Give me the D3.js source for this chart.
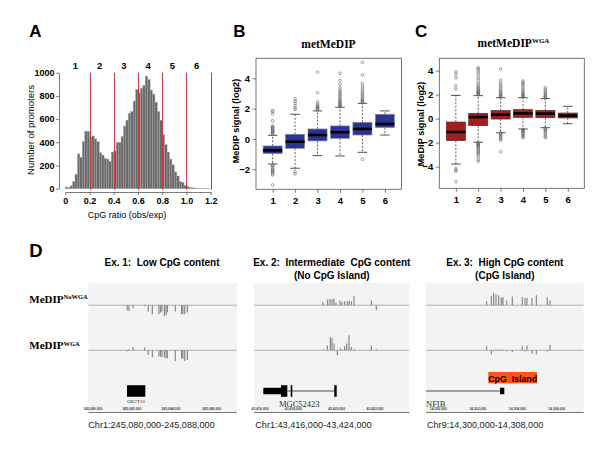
<!DOCTYPE html>
<html><head><meta charset="utf-8">
<script src="https://cdn.jsdelivr.net/npm/d3@7"></script>
<style>
body{margin:0;background:#fff}
svg{display:block}
text{font-family:"Liberation Sans",Arial,sans-serif;fill:#000}
.serif{font-family:"Liberation Serif","Times New Roman",serif}
</style>
</head><body>
<svg id="c" width="600" height="449"></svg>
<script>
// ---------------- DATA ----------------
// Panel A: histogram of CpG ratio (bins of 0.02 from 0 to 1.2)
const histBinWidth = 0.02;
const histCounts = [15,10,25,60,125,300,270,405,495,495,
  440,455,430,405,310,290,260,255,235,315,
  325,400,400,450,540,590,650,665,755,855,
  825,865,890,970,940,850,815,745,665,590,
  465,380,315,255,205,145,110,60,55,30,
  20,10,8,5,5,4,3,3,2,2];
const classCutoffs = [0.2,0.4,0.6,0.8,1.0,1.2];
const classLabels = ["1","2","3","4","5","6"];
const histXTicks = [0,0.2,0.4,0.6,0.8,1.0,1.2];
const histYTicks = [0,200,400,600,800,1000];

// Panels B and C: box statistics [lowWhisker, Q1, median, Q3, highWhisker]
const boxCategories = [1,2,3,4,5,6];
const statsB = [
  [-1.65,-0.97,-0.75,-0.46,0.24],
  [-1.93,-0.62,-0.18,0.31,1.63],
  [-1.10,-0.13,0.26,0.66,1.85],
  [-1.12,0.04,0.44,0.86,2.09],
  [-0.88,0.26,0.66,1.10,2.35],
  [0.26,0.75,0.99,1.63,1.85]];
const outliersB = [
  [0.30,0.35,0.40,0.45,0.50,0.55,0.60,0.65,0.70,0.75,0.80,0.85,1.20,1.65,1.80,1.87,
   -1.70,-1.75,-1.80,-1.90,-2.00,-2.05,-2.10,-2.15,-2.20,-2.30,-2.37,-3.03],
  [1.95,2.05,2.20,2.35,2.50,2.65,-2.15,-2.30],
  [1.90,1.95,2.00,2.05,2.10,2.15,2.20,2.30,2.45,3.05,4.40],
  [2.12,2.17,2.22,2.27,2.32,2.38,2.45,2.52,2.60,2.70,2.80,2.90,3.00,3.10,3.20,3.35,3.60,3.85,4.33],
  [2.40,2.45,2.50,2.55,2.62,2.70,2.80,2.90,3.00,3.10,3.22,3.35,3.50,3.67,4.22,5.05,-1.34],
  []];
const statsC = [
  [-3.78,-1.83,-1.11,-0.28,1.94],
  [-1.97,-0.58,0.14,0.44,1.92],
  [-1.17,-0.03,0.33,0.67,1.75],
  [-0.86,0.11,0.44,0.75,1.75],
  [-0.75,0.08,0.42,0.69,1.67],
  [-0.42,0.06,0.25,0.47,1.03]];
const outliersC = [
  [2.47,2.75,3.40,3.70,3.90,-4.14,-4.28,-4.39,-5.25],
  [2.00,2.05,2.10,2.15,2.20,2.25,2.30,2.40,2.50,2.60,2.70,2.85,3.00,3.20,3.40,3.60,3.80,4.00,4.15,4.25,
   -2.00,-2.05,-2.10,-2.15,-2.20,-2.25,-2.30,-2.40,-2.50,-2.60,-2.70,-2.80,-2.90,-3.00,-3.20,-3.40,-3.55],
  [1.80,1.85,1.90,1.95,2.00,2.10,2.20,2.30,2.40,2.55,2.70,2.85,3.00,3.20,4.14,
   -1.20,-1.25,-1.30,-1.40,-1.50,-1.60,-1.70,-1.78,-2.75],
  [1.80,1.85,1.90,1.95,2.00,2.10,2.20,2.30,2.45,2.60,2.75,2.90,3.00,3.14,
   -0.90,-0.95,-1.00,-1.05,-1.10,-1.20,-1.30,-1.40,-1.50,-1.58],
  [1.70,1.75,1.80,1.85,1.90,2.00,2.10,2.20,2.30,2.45,2.58,
   -0.80,-0.85,-0.90,-1.00,-1.10,-1.20,-1.35,-1.50,-1.58],
  []];
const boxYTicksB = [-2,0,2,4];
const boxYTicksC = [-4,-2,0,2,4];

// Panel D: three 8 kb genome regions
const regionTitles = [["Ex. 1:  Low CpG content"],
  ["Ex. 2:  Intermediate  CpG content","(No CpG Island)"],
  ["Ex. 3:  High CpG content","(CpG Island)"]];
const regionCoords = ["Chr1:245,080,000-245,088,000","Chr1:43,416,000-43,424,000","Chr9:14,300,000-14,308,000"];
const regionLength = 8000;
const trackLabels = [["MeDIP","NoWGA"],["MeDIP","WGA"]];
// signal bars: positions (bp offset) and values (up = positive)
const r1Pos      = [2100,2190,2410,3040,3230,3450,3810,3900,3970,4100,4190,4260,4690,5030,5100,5200,5340];
const r1NoWGA    = [-5,-5.7,-3,-1,-6.3,-9,-9,-7.3,-6.3,-10.7,-9.7,-7,-6.3,-9,-9,-9,-7.3];
const r1WGA      = [-1,1,3.3,2.7,-4.7,-7,-6.3,-6.3,-7,-7.3,-8,-8,-10.7,-8,-8.7,-10.7,-9.7];
const r2PosNo    = [3546,3788,3907,4010,4113,4216,4423,4526,4666,4800,4903,5006,5146,6039,6297];
const r2NoWGA    = [3.3,6,6,6,6.7,2.7,4.7,3.3,4,4,4.3,4,9.3,4.7,-5];
const r2PosW     = [3546,3770,3925,4010,4113,4285,4440,4526,4666,4770,4887,5006,5163,6039,6297];
const r2WGA      = [0.7,4.7,13.3,12,6.7,-5,1.7,0.7,4,6.7,15,3.3,1,4.7,1];
const r3Pos      = [3078,3313,3433,3551,3687,3822,3906,4093,4378,4885,5022,5123,5377,5596,6154,6290];
const r3NoWGA    = [4,9.3,12,11,10,8,8,4.7,8.7,8,7.3,7.3,7.3,10,8,4.7];
const r3WGA      = [4,-4,-1,0.7,1,0.7,-0.7,-1,-2,4,-1.3,4.7,-3.3,-4,-1,5.3];
// gene models: [type, start, end]
const gene1 = [["exon",2086,3073]];
const gene2 = [["utr",465,1414],["exon",1378,1703],["intron",1703,1879],["exon",1879,1961],["intron",1961,4129],["exon",4129,4253]];
const gene3 = [["intron",0,3754],["utr",3754,3972]];
const geneNames = ["OR2T10","MGC52423","NFIB"];
const geneNamePos = [2571,2323,0];
const cpgIsland3 = [3160,5631];
const rulerPos = [[250,2350,4450,6650],[300,2010,4250,6230],[625,2623,4632,6630]];
const rulerLabels = [["245,080,000","245,082,000","245,084,000","245,086,000"],
  ["43,416,000","43,418,000","43,420,000","43,422,000"],
  ["14,300,000","14,302,000","14,304,000","14,306,000"]];

// ---------------- DRAW ----------------
const svg = d3.select("#c");

function panelLetter(t,x,y,size){
  svg.append("text").attr("x",x).attr("y",y).text(t)
    .style("font-size",size+"px").style("font-weight","bold");
}
panelLetter("A",29.3,37.3,17);
panelLetter("B",233.3,36.7,17);
panelLetter("C",415,36.7,17);
panelLetter("D",29.3,256.7,18.5);

// ----- Panel A -----
const xA = d3.scaleLinear().domain([0,1.2]).range([65.3,210.7]);
const yA = d3.scaleLinear().domain([0,1000]).range([188.7,72.7]);
const bins = histCounts.map((c,i)=>({x0:i*histBinWidth,x1:(i+1)*histBinWidth,c}));
svg.append("g").selectAll("rect").data(bins).join("rect")
  .attr("x",d=>xA(d.x0)).attr("width",d=>xA(d.x1)-xA(d.x0))
  .attr("y",d=>yA(d.c)).attr("height",d=>yA(0)-yA(d.c))
  .attr("fill","#6b6b6b").attr("stroke","#a5a5a5").attr("stroke-width",0.4);
svg.append("g").selectAll("line").data(classCutoffs).join("line")
  .attr("x1",d=>Math.round(xA(d))+0.5).attr("x2",d=>Math.round(xA(d))+0.5)
  .attr("y1",yA(1000)).attr("y2",yA(0)+1)
  .attr("stroke","#c83a3a").attr("stroke-width",1);
const classBounds = [0].concat(classCutoffs);
svg.append("g").selectAll("text").data(classLabels).join("text")
  .attr("x",(d,i)=>xA((classBounds[i]+classBounds[i+1])/2)-2).attr("y",68.5)
  .attr("text-anchor","middle").style("font-size","9.5px").style("font-weight","bold").text(d=>d);
const axYA = svg.append("g").attr("transform","translate(59,0)")
  .call(d3.axisLeft(yA).tickValues(histYTicks).tickSize(3).tickSizeOuter(0).tickPadding(1.5)
    .tickFormat(d3.format("d")));
const axXA = svg.append("g").attr("transform","translate(0,192)")
  .call(d3.axisBottom(xA).tickValues(histXTicks).tickSize(3).tickSizeOuter(0).tickPadding(3)
    .tickFormat(d=>d===0?"0":d.toFixed(1)));
[axYA,axXA].forEach(g=>{
  g.selectAll("text").style("font-size","9px").style("font-weight","bold").style("font-family","Liberation Sans, Arial");
  g.selectAll("path,line").attr("stroke","#444").attr("stroke-width",0.7);
});
svg.append("text").attr("transform","translate(33.5,130) rotate(-90)").attr("text-anchor","middle")
  .style("font-size","9.5px").text("Number of promoters");
svg.append("text").attr("x",127).attr("y",218).attr("text-anchor","middle")
  .style("font-size","9px").text("CpG ratio (obs/exp)");

// ----- Panels B, C -----
function boxPanel(o){
  const x = d3.scaleLinear().domain([0.26,6.74]).range([o.left,o.right]);
  const y = d3.scaleLinear().domain(o.yDomain).range([o.bottom,o.top]);
  const g = svg.append("g");
  const hw = 0.425;
  const data = o.stats.map((s,i)=>({cat:boxCategories[i],s,out:o.outliers[i]}));
  data.forEach(d=>{
    const cx = x(d.cat);
    g.append("line").attr("x1",cx).attr("x2",cx).attr("y1",y(d.s[3])).attr("y2",y(d.s[4]))
      .attr("stroke","#222").attr("stroke-width",0.7).attr("stroke-dasharray","2,1.6");
    g.append("line").attr("x1",cx).attr("x2",cx).attr("y1",y(d.s[1])).attr("y2",y(d.s[0]))
      .attr("stroke","#222").attr("stroke-width",0.7).attr("stroke-dasharray","2,1.6");
    [d.s[0],d.s[4]].forEach(v=>{
      g.append("line").attr("x1",x(d.cat-hw/2)).attr("x2",x(d.cat+hw/2)).attr("y1",y(v)).attr("y2",y(v))
        .attr("stroke","#222").attr("stroke-width",0.8);
    });
    d.out.forEach(v=>{
      g.append("circle").attr("cx",cx).attr("cy",y(v)).attr("r",1.35)
        .attr("fill","none").attr("stroke","#6a6a6a").attr("stroke-width",0.6);
    });
  });
  g.selectAll("rect.bx").data(data).join("rect").attr("class","bx")
    .attr("x",d=>x(d.cat-hw)).attr("width",d=>x(d.cat+hw)-x(d.cat-hw))
    .attr("y",d=>y(d.s[3])).attr("height",d=>y(d.s[1])-y(d.s[3]))
    .attr("fill",o.fill).attr("stroke",o.stroke).attr("stroke-width",0.7);
  g.selectAll("line.md").data(data).join("line").attr("class","md")
    .attr("x1",d=>x(d.cat-hw)).attr("x2",d=>x(d.cat+hw))
    .attr("y1",d=>y(d.s[2])).attr("y2",d=>y(d.s[2]))
    .attr("stroke","#000").attr("stroke-width",2.6);
  svg.append("rect").attr("x",o.left).attr("y",o.top).attr("width",o.right-o.left).attr("height",o.bottom-o.top)
    .attr("fill","none").attr("stroke","#555").attr("stroke-width",0.8);
  const ay = svg.append("g").attr("transform",`translate(${o.left},0)`)
    .call(d3.axisLeft(y).tickValues(o.yTicks).tickSize(3.5).tickPadding(2.5).tickFormat(d3.format("d")));
  const ax = svg.append("g").attr("transform",`translate(0,${o.bottom})`)
    .call(d3.axisBottom(x).tickValues(boxCategories).tickSize(3.5).tickPadding(4).tickFormat(d3.format("d")));
  [ay,ax].forEach(a=>{
    a.select(".domain").remove();
    a.selectAll("line").attr("stroke","#444").attr("stroke-width",0.7);
    a.selectAll("text").style("font-size","9.5px").style("font-weight","bold").style("font-family","Liberation Sans, Arial");
  });
  svg.append("text").attr("transform",`translate(${o.ylabX},${o.ylabY}) rotate(-90)`).attr("text-anchor","middle")
    .style("font-size","9.2px").style("font-weight","bold").text("MeDIP signal (log2)");
  const t = svg.append("text").attr("class","serif").attr("x",o.titleX).attr("y",o.titleY)
    .attr("text-anchor","middle").style("font-size","11.5px").style("font-weight","bold");
  t.append("tspan").text("metMeDIP");
  if(o.sup) t.append("tspan").attr("dy",-4).style("font-size","7px").text(o.sup);
}
boxPanel({left:256,right:401.5,top:58.3,bottom:189.3,yDomain:[-3.32,5.32],yTicks:boxYTicksB,
  stats:statsB,outliers:outliersB,fill:"#2a3592",stroke:"#8a8fa8",ylabX:239,ylabY:121,titleX:328.5,titleY:48,sup:null});
boxPanel({left:439.3,right:584.3,top:58.3,bottom:188.3,yDomain:[-5.8,5.03],yTicks:boxYTicksC,
  stats:statsC,outliers:outliersC,fill:"#a31f1f",stroke:"#5a2a2a",ylabX:424.2,ylabY:124,titleX:513.5,titleY:46.5,sup:"WGA"});

// ----- Panel D -----
const regions = [
  {left:88.3,right:236.7,tracks:[[r1Pos,r1NoWGA],[r1Pos,r1WGA]],gene:gene1,geneLabelSize:5,geneLabelY:403.3,anchor:"middle"},
  {left:254.3,right:409.3,tracks:[[r2PosNo,r2NoWGA],[r2PosW,r2WGA]],gene:gene2,geneLabelSize:8.5,geneLabelY:406.7,anchor:"middle"},
  {left:426,right:583.7,tracks:[[r3Pos,r3NoWGA],[r3Pos,r3WGA]],gene:gene3,geneLabelSize:8.5,geneLabelY:406.7,anchor:"start"}
];
const trackBase = [305.2,350.3];
const sigScale = d3.scaleLinear().domain([0,10]).range([0,-10]);
const geneY = 391;
const partH = {exon:11.5,utr:6.5};
regions.forEach((r,ri)=>{
  const x = d3.scaleLinear().domain([0,regionLength]).range([r.left,r.right]);
  const g = svg.append("g");
  g.append("rect").attr("x",r.left).attr("y",282.7).attr("width",r.right-r.left).attr("height",412.5-282.7)
    .attr("fill","#f3f3f3");
  regionTitles[ri].forEach((t,li)=>{
    g.append("text").attr("x",(r.left+r.right)/2+(ri===0?-0.5:0)).attr("y",266+li*12.7).attr("text-anchor","middle")
      .style("font-size","10px").style("font-weight","bold").style("white-space","pre").text(t);
  });
  r.tracks.forEach((tr,ti)=>{
    const base = trackBase[ti];
    g.append("line").attr("x1",r.left).attr("x2",r.right).attr("y1",base).attr("y2",base)
      .attr("stroke","#a9a9a9").attr("stroke-width",0.9);
    const pts = tr[0].map((p,i)=>({p,v:tr[1][i]}));
    g.selectAll(null).data(pts).join("line")
      .attr("x1",d=>x(d.p)).attr("x2",d=>x(d.p))
      .attr("y1",base).attr("y2",d=>base+sigScale(d.v))
      .attr("stroke","#7e7e7e").attr("stroke-width",1.1);
  });
  r.gene.forEach(([type,s,e])=>{
    if(type==="intron"){
      g.append("line").attr("x1",x(s)).attr("x2",x(e)).attr("y1",geneY).attr("y2",geneY)
        .attr("stroke","#222").attr("stroke-width",0.8);
    } else {
      g.append("rect").attr("x",x(s)).attr("width",x(e)-x(s))
        .attr("y",geneY-partH[type]/2).attr("height",partH[type]).attr("fill","#000");
    }
  });
  g.append("text").attr("class","serif").attr("x",x(geneNamePos[ri])).attr("y",r.geneLabelY)
    .attr("text-anchor",r.anchor).style("font-size",r.geneLabelSize+"px").style("fill","#333")
    .text(geneNames[ri]);
  if(ri===2){
    g.append("rect").attr("x",x(cpgIsland3[0])).attr("width",x(cpgIsland3[1])-x(cpgIsland3[0]))
      .attr("y",372).attr("height",11.3).attr("fill","#ff5418");
    g.append("text").attr("x",(x(cpgIsland3[0])+x(cpgIsland3[1]))/2).attr("y",381.6).attr("text-anchor","middle")
      .style("font-size","8.8px").style("font-weight","bold").style("white-space","pre").text("CpG  Island");
  }
  g.append("line").attr("x1",r.left).attr("x2",r.right).attr("y1",412.5).attr("y2",412.5)
    .attr("stroke","#555").attr("stroke-width",0.8);
  g.selectAll(null).data(rulerPos[ri]).join("text")
    .attr("x",d=>x(d)).attr("y",410.3).attr("text-anchor","middle")
    .style("font-size","3.4px").style("font-weight","bold").style("fill","#444")
    .text((d,i)=>rulerLabels[ri][i]);
  g.append("text").attr("x",r.left+(ri===0?0:1)).attr("y",428.3)
    .style("font-size","9.1px").style("fill","#222").text(regionCoords[ri]);
});
trackLabels.forEach((l,i)=>{
  const t = svg.append("text").attr("class","serif").attr("x",29.3).attr("y",[302.7,349][i])
    .style("font-size","11px").style("font-weight","bold");
  t.append("tspan").text(l[0]);
  t.append("tspan").attr("dy",-3.5).style("font-size","6.5px").text(l[1]);
});
</script>
</body></html>
